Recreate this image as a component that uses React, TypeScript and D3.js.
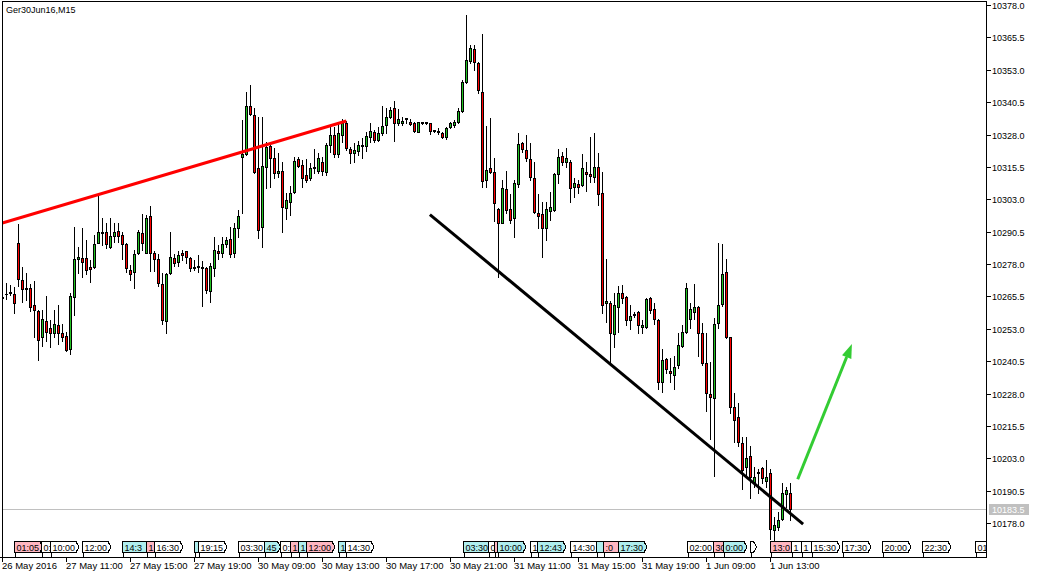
import React from "react";
import * as d3 from "d3";

const W = 1039;
const H = 578;

// ---- OHLC data (Ger30Jun16, M15) ----
const openP = [
  10265.2, 10266.5, 10266.8, 10266.6, 10286.3, 10271.8, 10268.2, 10268.6, 10262.1, 10259.8,
  10249.7, 10256.0, 10253.1, 10251.2, 10254.4, 10251.2, 10250.2, 10245.0, 10265.1, 10280.0,
  10280.2, 10280.2, 10276.7, 10276.7, 10286.2, 10290.1, 10290.4, 10284.6, 10288.8, 10290.6,
  10289.2, 10285.6, 10275.7, 10274.8, 10282.1, 10290.1, 10282.3, 10296.5, 10282.1, 10279.9,
  10270.3, 10256.1, 10274.6, 10280.2, 10278.9, 10282.3, 10283.0, 10280.2, 10276.6, 10276.9,
  10276.7, 10276.3, 10267.7, 10276.3, 10283.0, 10282.1, 10285.6, 10287.6, 10282.1, 10292.0,
  10319.3, 10320.5, 10339.0, 10335.5, 10314.9, 10292.4, 10315.3, 10323.5, 10318.8, 10313.2,
  10314.0, 10299.7, 10302.0, 10305.9, 10318.4, 10316.2, 10312.3, 10311.1, 10314.9, 10314.0,
  10317.5, 10313.6, 10323.9, 10327.8, 10320.5, 10327.8, 10332.3, 10322.3, 10321.0, 10321.7,
  10323.9, 10323.5, 10326.9, 10329.1, 10325.9, 10328.7, 10331.7, 10334.6, 10338.1, 10332.3,
  10332.5, 10333.9, 10333.0, 10332.5, 10329.1, 10332.3, 10332.7, 10332.3, 10329.7, 10329.5,
  10328.5, 10327.1, 10330.8, 10331.7, 10332.9, 10337.1, 10348.1, 10356.5, 10360.9, 10355.5,
  10344.3, 10310.4, 10314.9, 10313.4, 10299.1, 10293.9, 10306.8, 10299.1, 10295.6, 10308.8,
  10324.6, 10322.0, 10318.4, 10311.1, 10297.6, 10297.3, 10292.0, 10298.6, 10298.8, 10312.7,
  10319.7, 10317.3, 10317.3, 10307.6, 10308.9, 10308.5, 10313.6, 10312.7, 10311.7, 10315.3,
  10305.3, 10262.8, 10263.1, 10251.0, 10261.3, 10266.9, 10265.1, 10256.4, 10258.4, 10259.4,
  10253.5, 10253.5, 10264.8, 10260.5, 10256.4, 10232.6, 10241.2, 10236.7, 10235.1, 10239.0,
  10246.4, 10251.8, 10256.6, 10259.6, 10261.3, 10251.5, 10239.9, 10227.8, 10226.1, 10255.1,
  10262.5, 10274.8, 10249.7, 10222.7, 10218.8, 10208.8, 10199.5, 10203.9, 10193.9, 10197.4,
  10199.1, 10194.3, 10197.2, 10175.3, 10176.6, 10179.4, 10189.1, 10189.5,
];
const highP = [
  10266.0, 10270.5, 10269.9, 10269.2, 10293.4, 10276.7, 10274.6, 10270.3, 10271.5, 10260.2,
  10260.2, 10265.6, 10256.4, 10260.2, 10262.1, 10254.8, 10251.8, 10266.7, 10292.4, 10284.4,
  10291.8, 10287.2, 10279.5, 10289.2, 10304.6, 10295.6, 10293.9, 10295.6, 10293.7, 10293.9,
  10290.4, 10286.3, 10277.6, 10283.4, 10291.1, 10297.2, 10296.9, 10300.4, 10283.1, 10281.8,
  10274.4, 10274.6, 10290.4, 10281.8, 10283.1, 10283.4, 10283.1, 10280.8, 10279.5, 10281.5,
  10279.1, 10276.9, 10278.3, 10288.3, 10285.3, 10288.3, 10288.3, 10292.4, 10293.7, 10298.8,
  10333.6, 10344.5, 10347.1, 10338.1, 10334.8, 10334.6, 10325.2, 10324.6, 10322.7, 10320.7,
  10317.5, 10305.3, 10308.1, 10319.2, 10319.4, 10318.1, 10318.4, 10316.9, 10322.3, 10320.7,
  10319.2, 10324.6, 10331.0, 10331.0, 10332.3, 10333.9, 10333.3, 10323.3, 10324.6, 10325.5,
  10326.5, 10329.1, 10332.3, 10329.7, 10331.0, 10339.0, 10338.1, 10338.7, 10341.0, 10337.7,
  10334.8, 10334.5, 10333.9, 10332.9, 10332.9, 10332.9, 10333.0, 10332.5, 10329.9, 10330.4,
  10329.1, 10331.0, 10333.0, 10333.6, 10338.1, 10349.0, 10374.1, 10362.5, 10362.5, 10356.1,
  10366.8, 10331.3, 10334.2, 10318.8, 10299.5, 10310.4, 10313.9, 10304.9, 10310.4, 10328.5,
  10325.2, 10327.8, 10324.6, 10317.5, 10304.9, 10302.0, 10302.0, 10305.9, 10313.0, 10322.3,
  10321.3, 10322.7, 10318.1, 10311.1, 10310.4, 10320.5, 10317.5, 10326.9, 10328.5, 10320.7,
  10313.6, 10279.8, 10263.7, 10266.7, 10269.5, 10269.9, 10265.6, 10262.1, 10259.6, 10260.0,
  10256.4, 10264.8, 10265.1, 10263.1, 10256.6, 10245.0, 10241.6, 10241.6, 10242.5, 10251.2,
  10254.4, 10270.5, 10262.8, 10270.3, 10261.8, 10255.1, 10251.5, 10240.3, 10257.0, 10286.0,
  10285.7, 10279.8, 10249.9, 10228.1, 10224.2, 10211.3, 10211.1, 10207.7, 10199.5, 10198.7,
  10199.5, 10202.3, 10198.7, 10180.4, 10182.4, 10193.3, 10192.0, 10193.3,
];
const lowP = [
  10264.1, 10264.3, 10266.0, 10259.2, 10269.5, 10263.4, 10264.1, 10260.0, 10249.7, 10240.9,
  10246.4, 10248.4, 10246.1, 10249.7, 10247.1, 10248.4, 10244.6, 10243.2, 10258.3, 10274.6,
  10273.1, 10274.1, 10271.1, 10276.3, 10286.0, 10285.3, 10284.0, 10284.0, 10286.6, 10286.6,
  10279.8, 10275.0, 10271.8, 10268.6, 10281.8, 10283.4, 10282.1, 10275.4, 10275.4, 10269.5,
  10254.8, 10251.4, 10274.1, 10277.2, 10277.2, 10279.5, 10278.3, 10275.4, 10275.7, 10275.0,
  10261.8, 10266.7, 10263.4, 10273.4, 10279.8, 10280.8, 10284.6, 10280.6, 10280.6, 10288.5,
  10297.6, 10320.1, 10335.5, 10313.0, 10287.9, 10284.6, 10307.2, 10307.6, 10311.1, 10311.7,
  10290.4, 10295.2, 10296.9, 10305.3, 10315.3, 10307.8, 10309.7, 10310.4, 10313.0, 10313.0,
  10312.3, 10312.3, 10321.3, 10319.4, 10319.4, 10325.2, 10322.0, 10316.9, 10317.5, 10320.1,
  10318.8, 10321.7, 10325.2, 10325.2, 10325.6, 10327.8, 10328.5, 10334.2, 10325.6, 10331.7,
  10331.7, 10332.3, 10331.7, 10329.1, 10328.8, 10332.0, 10332.2, 10328.1, 10329.1, 10328.1,
  10326.5, 10326.1, 10330.4, 10331.0, 10332.3, 10336.8, 10348.0, 10355.5, 10352.9, 10343.9,
  10307.6, 10307.6, 10313.0, 10294.7, 10272.9, 10293.7, 10297.6, 10293.9, 10288.3, 10307.6,
  10321.3, 10317.9, 10310.4, 10297.6, 10291.8, 10280.6, 10287.2, 10295.0, 10298.6, 10309.1,
  10316.2, 10315.6, 10302.0, 10304.0, 10305.3, 10308.1, 10306.3, 10309.8, 10309.8, 10300.8,
  10259.2, 10255.7, 10240.3, 10245.8, 10251.8, 10262.8, 10254.4, 10252.8, 10257.5, 10251.2,
  10251.2, 10253.2, 10259.2, 10254.8, 10229.9, 10228.7, 10235.8, 10232.6, 10229.9, 10237.7,
  10246.0, 10251.4, 10253.2, 10256.6, 10242.5, 10239.0, 10221.4, 10210.3, 10196.1, 10253.2,
  10261.8, 10249.3, 10220.6, 10209.4, 10207.7, 10191.0, 10195.6, 10187.5, 10192.0, 10189.5,
  10193.5, 10192.0, 10171.7, 10171.4, 10175.3, 10179.2, 10184.3, 10179.2,
];
const closeP = [
  10264.8, 10266.6, 10267.0, 10262.8, 10272.1, 10268.2, 10268.6, 10261.3, 10260.2, 10248.5,
  10256.6, 10251.8, 10251.2, 10254.7, 10251.4, 10249.7, 10244.8, 10265.6, 10279.8, 10280.7,
  10278.9, 10275.7, 10276.2, 10285.7, 10290.4, 10290.3, 10285.6, 10288.8, 10290.4, 10288.9,
  10285.6, 10276.3, 10274.1, 10281.8, 10290.3, 10286.3, 10295.6, 10282.1, 10279.9, 10270.5,
  10256.4, 10274.1, 10280.6, 10278.5, 10281.3, 10281.5, 10280.6, 10276.3, 10276.8, 10277.2,
  10276.6, 10267.9, 10277.2, 10283.4, 10282.1, 10285.6, 10287.2, 10281.8, 10291.8, 10296.5,
  10320.5, 10339.0, 10335.8, 10313.6, 10291.1, 10315.8, 10323.3, 10318.8, 10313.2, 10314.0,
  10300.1, 10302.7, 10305.3, 10317.7, 10315.8, 10311.1, 10310.4, 10314.9, 10315.3, 10318.8,
  10314.0, 10323.9, 10327.8, 10320.5, 10328.7, 10332.3, 10322.7, 10320.7, 10322.0, 10323.9,
  10323.5, 10327.4, 10329.5, 10325.9, 10328.7, 10331.3, 10334.6, 10337.4, 10332.5, 10333.9,
  10333.3, 10334.2, 10331.9, 10329.5, 10332.7, 10332.7, 10332.5, 10329.5, 10329.5, 10328.9,
  10327.1, 10330.4, 10332.5, 10332.9, 10337.1, 10348.1, 10356.7, 10361.3, 10355.9, 10345.2,
  10310.1, 10314.3, 10313.6, 10301.4, 10293.7, 10307.2, 10298.8, 10295.0, 10309.1, 10324.3,
  10322.3, 10318.8, 10311.7, 10298.2, 10296.5, 10291.8, 10299.1, 10299.9, 10312.7, 10319.2,
  10317.5, 10318.8, 10307.2, 10309.4, 10307.6, 10314.9, 10312.7, 10311.9, 10315.3, 10305.0,
  10262.1, 10263.7, 10251.2, 10262.1, 10266.7, 10264.8, 10256.4, 10258.0, 10258.7, 10254.4,
  10254.4, 10264.4, 10260.2, 10256.6, 10232.3, 10240.9, 10237.3, 10235.8, 10238.4, 10246.7,
  10251.6, 10268.6, 10260.5, 10261.3, 10251.2, 10239.9, 10228.1, 10226.5, 10254.7, 10262.0,
  10274.1, 10249.7, 10222.9, 10217.8, 10209.4, 10198.5, 10203.0, 10195.6, 10195.9, 10197.8,
  10195.2, 10195.6, 10175.5, 10177.1, 10179.2, 10189.5, 10190.7, 10183.5,
];

// ---- axes ----
const priceTicks = d3.range(17).map((k) => 10178 + 12.5 * k);
const timeTickBars = [0, 16, 32, 48, 64, 80, 96, 112, 128, 144, 160, 176, 192];
const timeTickLabels = [
  "26 May 2016", "27 May 11:00", "27 May 15:00", "27 May 19:00", "30 May 09:00",
  "30 May 13:00", "30 May 17:00", "30 May 21:00", "31 May 11:00", "31 May 15:00",
  "31 May 19:00", "1 Jun 09:00", "1 Jun 13:00",
];
const symbolTitle = "Ger30Jun16,M15";
const currentPrice = 10183.5;

// ---- drawn objects ----
const redTrendBars = [0, 86];
const redTrendPrices = [10293.8, 10333.2];
const blackTrendBars = [106.9, 200.2];
const blackTrendPrices = [10297.1, 10177.6];
const arrowBars = [198.85, 212.4];
const arrowPrices = [10194.9, 10247.1];

// ---- bottom time tags (visible parts, left to right) ----
const tagBars = [
  3.0, 9.7, 12, 20.1, 30.1, 36, 38, 48.1, 49.1, 59.1, 65.6, 69.5, 72, 74, 76, 84.1, 85.9,
  115.2, 121.6, 123.1, 123.8, 132, 133.9, 142, 148.5, 150.3, 154.1, 171.2, 177.7, 180.3, 187,
  192, 197.25, 199.7, 202.2, 210, 220.1, 230.1, 243.4,
];
const tagTexts = [
  "01:05", "0:", "10:00", "12:00", "14:3", "1", "16:30", "", "19:15", "03:30", "45", "0:", "1", "1", "12:00", "1", "14:30",
  "03:30", "0", "", "10:00", "1", "12:43", "14:30", "", ":0", "17:30", "02:00", "30", "0:00", "",
  "13:0", "1", "1", "15:30", "17:30", "20:00", "22:30", "01",
];
const tagKinds = [
  "p", "w", "w", "w", "c", "p", "w", "c", "w", "w", "c", "w", "p", "c", "p", "c", "w",
  "c", "w", "p", "c", "w", "c", "w", "c", "p", "c", "w", "p", "c", "w",
  "p", "w", "w", "w", "w", "w", "w", "w",
];
// 1 = the tag shows its arrow tip, 0 = covered by the next tag
const tagTips = [
  1, 0, 1, 1, 0, 0, 1, 0, 1, 1, 1, 0, 0, 0, 1, 0, 1,
  1, 0, 0, 1, 0, 1, 1, 0, 0, 1, 1, 0, 1, 1,
  0, 0, 0, 1, 1, 1, 1, 0,
];

const PLOT_L = 2;
const PLOT_T = 1;
const PLOT_R = 986;
const PLOT_B = 557;

const x = d3.scaleLinear().domain([0, 245]).range([2.3, 982.3]);
const y = d3.scaleLinear().domain([10178, 10378]).range([523, 5]);

const UP = "#22c322";
const DOWN = "#ff0000";
const FONT = "'Liberation Sans', Arial, sans-serif";

function textW(t: string) {
  let w = 0;
  for (const ch of t) w += ch === ":" ? 2.5 : 5;
  return w;
}

export default function App() {
  const candles = openP.map((o, i) => {
    const h = highP[i];
    const l = lowP[i];
    const c = closeP[i];
    const cx = Math.floor(x(i));
    const yH = Math.round(y(h));
    const yL = Math.round(y(l));
    const yO = Math.round(y(o));
    const yC = Math.round(y(c));
    const top = Math.min(yO, yC);
    const bot = Math.max(yO, yC);
    const col = c >= o ? UP : DOWN;
    return (
      <g key={i}>
        <rect x={cx} y={yH} width={1} height={Math.max(1, yL - yH + 1)} fill="#000" />
        <rect x={cx - 1} y={top} width={3} height={bot - top + 1} fill="#000" />
        {bot - top >= 2 && (
          <rect x={cx} y={top + 1} width={1} height={bot - top - 1} fill={col} />
        )}
      </g>
    );
  });

  const line = d3.line<[number, number]>().x((d) => x(d[0])).y((d) => y(d[1]));
  const redPath = line(redTrendBars.map((b, i) => [b, redTrendPrices[i]]) as [number, number][]);
  const blackPath = line(blackTrendBars.map((b, i) => [b, blackTrendPrices[i]]) as [number, number][]);

  const ax0 = x(arrowBars[0]);
  const ay0 = y(arrowPrices[0]);
  const ax1 = x(arrowBars[1]);
  const ay1 = y(arrowPrices[1]);
  const ang = Math.atan2(ay1 - ay0, ax1 - ax0);
  const hl = 14;
  const hw = 5;
  const bx = ax1 - hl * Math.cos(ang);
  const by = ay1 - hl * Math.sin(ang);
  const px = -Math.sin(ang);
  const py = Math.cos(ang);
  const head = `M${ax1},${ay1}L${bx + hw * px},${by + hw * py}L${bx - hw * px},${by - hw * py}Z`;

  const tagFill: Record<string, string> = { w: "#ffffff", p: "#ffb6c1", c: "#afeeee" };
  const tagTop = 541.5;
  const tagBot = 552.5;
  const tagMid = (tagTop + tagBot) / 2;
  const tags = tagBars.map((b, i) => {
    const lx = Math.floor(x(b)) + 0.5;
    const t = tagTexts[i];
    let d: string;
    if (tagTips[i]) {
      const rx = lx + textW(t) + 3;
      d = `M${lx},${tagTop}H${rx}L${rx + 3},${tagMid}L${rx},${tagBot}H${lx}Z`;
    } else {
      const nx = i + 1 < tagBars.length ? Math.floor(x(tagBars[i + 1])) + 0.5 : PLOT_R + 0.5;
      d = `M${nx},${tagTop}H${lx}V${tagBot}H${nx}`;
    }
    return (
      <g key={"t" + i}>
        <path d={d} fill={tagFill[tagKinds[i]]} stroke="#000" strokeWidth={1} />
        {t && (
          <text x={lx + 2} y={550.5} fontSize={9} fontFamily={FONT} fill="#000">
            {t}
          </text>
        )}
        <line x1={lx + 1} x2={lx + 1} y1={553} y2={557} stroke="#000" strokeWidth={1} />
      </g>
    );
  });

  const yCur = Math.round(y(currentPrice));

  return (
    <svg
      width={W}
      height={H}
      style={{ position: "absolute", left: 0, top: 0, background: "#fff" }}
    >
      <defs>
        <clipPath id="plot">
          <rect x={PLOT_L} y={PLOT_T} width={PLOT_R - PLOT_L} height={PLOT_B - PLOT_T} />
        </clipPath>
      </defs>
      <rect x={0} y={0} width={W} height={H} fill="#fff" />

      <g clipPath="url(#plot)">
        <rect x={PLOT_L} y={yCur} width={PLOT_R - PLOT_L} height={1} fill="#c0c0c0" />
        <g shapeRendering="crispEdges">{candles}</g>
        <path d={redPath || ""} stroke="#ff0000" strokeWidth={3} fill="none" />
        <path d={blackPath || ""} stroke="#000" strokeWidth={3} fill="none" />
        <line x1={ax0} y1={ay0} x2={bx} y2={by} stroke="#33cc33" strokeWidth={3} />
        <path d={head} fill="#33cc33" />
        <g shapeRendering="crispEdges">{tags}</g>
      </g>

      {/* frame */}
      <g shapeRendering="crispEdges">
        <rect x={PLOT_L} y={PLOT_T} width={PLOT_R - PLOT_L} height={1} fill="#000" />
        <rect x={PLOT_L} y={PLOT_T} width={1} height={PLOT_B - PLOT_T} fill="#000" />
        <rect x={PLOT_R} y={PLOT_T} width={1} height={PLOT_B - PLOT_T + 1} fill="#000" />
        <rect x={0} y={PLOT_B} width={PLOT_R + 1} height={1} fill="#000" />
      </g>

      <text x={6} y={13} fontSize={9} fontFamily={FONT} fill="#000">
        {symbolTitle}
      </text>

      {/* price axis */}
      <g shapeRendering="crispEdges">
        {priceTicks.map((p) => {
          const yy = Math.round(y(p));
          return (
            <g key={p}>
              <rect x={PLOT_R + 1} y={yy} width={4} height={1} fill="#000" />
              <text x={992} y={yy + 3.5} fontSize={9} fontFamily={FONT} fill="#000">
                {p.toFixed(1)}
              </text>
            </g>
          );
        })}
        <rect x={989} y={yCur - 5} width={40} height={11} fill="#c0c0c0" />
        <text x={992} y={yCur + 3.5} fontSize={9} fontFamily={FONT} fill="#fff">
          {currentPrice.toFixed(1)}
        </text>
      </g>

      {/* time axis */}
      <g shapeRendering="crispEdges">
        {timeTickBars.map((b, i) => {
          const xx = Math.floor(x(b));
          return (
            <g key={b}>
              <rect x={xx} y={PLOT_B + 1} width={1} height={4} fill="#000" />
              <text x={xx} y={569} fontSize={9.5} fontFamily={FONT} fill="#000">
                {timeTickLabels[i]}
              </text>
            </g>
          );
        })}
      </g>
    </svg>
  );
}
